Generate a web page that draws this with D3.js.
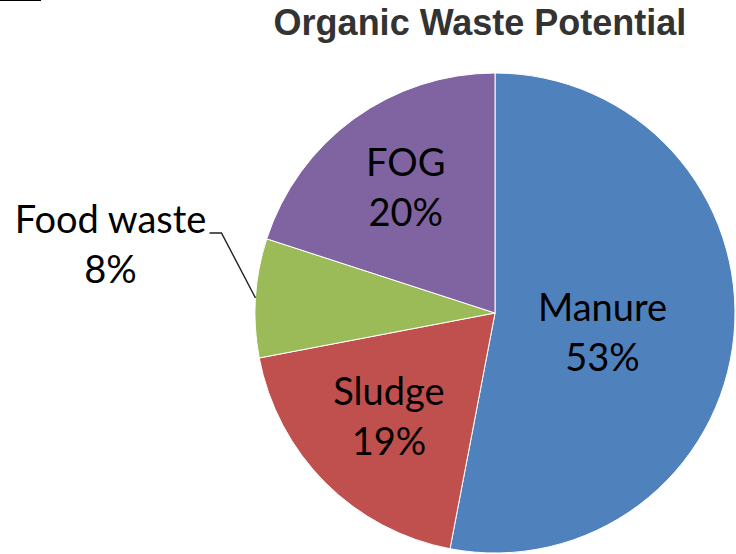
<!DOCTYPE html>
<html>
<head>
<meta charset="utf-8">
<script src="https://cdn.jsdelivr.net/npm/d3@7"></script>
<style>
  html, body { margin: 0; padding: 0; background: #fff; }
  svg { display: block; }
</style>
</head>
<body>
<svg id="chart" width="736" height="554"></svg>
<script>
// Organic waste potential by source (percent of total)
const categories = ["Manure", "Sludge", "Food waste", "FOG"];
const shares = [53, 19, 8, 20];
const colors = ["#4F81BD", "#C0504D", "#9BBB59", "#8064A2"];
const title = "Organic Waste Potential";

const width = 736, height = 554;
const cx = 495, cy = 313, radius = 240;

const svg = d3.select("#chart");

// short rule in the top-left corner
svg.append("line")
  .attr("x1", 0).attr("x2", 41)
  .attr("y1", 0.5).attr("y2", 0.5)
  .attr("stroke", "#000").attr("stroke-width", 1.2);

svg.append("text")
  .attr("x", 480).attr("y", 35)
  .attr("text-anchor", "middle")
  .attr("font-family", "'Liberation Sans', Arial, sans-serif")
  .attr("font-weight", "bold")
  .attr("font-size", 36)
  .attr("fill", "#333")
  .text(title);

const data = categories.map((c, i) => ({ name: c, value: shares[i], color: colors[i] }));

const pie = d3.pie().value(d => d.value).sort(null);
const arcs = pie(data);
const arc = d3.arc().innerRadius(0).outerRadius(radius);

const g = svg.append("g").attr("transform", `translate(${cx},${cy})`);

g.selectAll("path.slice")
  .data(arcs)
  .join("path")
  .attr("class", "slice")
  .attr("d", arc)
  .attr("fill", d => d.data.color)
  .attr("stroke", "#fff")
  .attr("stroke-width", 1);

// label placement: inside labels on an inner ring (with a small vertical nudge),
// the narrow slice gets an outside label with a leader line
const labelRing = {
  "Manure": { r: 0.45, dy: 10 },
  "Sludge": { r: 0.625, dy: -2 },
  "FOG":    { r: 0.633, dy: -2 }
};
const fontFamily = "Lato, 'Open Sans', sans-serif";
const fontSize = 38;
const lineGap = 50;
const capHalf = 13;

arcs.forEach(d => {
  const name = d.data.name;
  const label = [name, d.data.value + "%"];
  const place = labelRing[name];
  if (place) {
    const r = radius * place.r;
    const [lx, ly0] = d3.arc().innerRadius(r).outerRadius(r).centroid(d);
    const ly = ly0 + place.dy;
    const t = g.append("text")
      .attr("text-anchor", "middle")
      .attr("font-family", fontFamily)
      .attr("font-size", fontSize)
      .attr("fill", "#000");
    label.forEach((s, i) => {
      t.append("tspan")
        .attr("x", lx)
        .attr("y", ly + (i === 0 ? -lineGap / 2 : lineGap / 2) + capHalf)
        .text(s);
    });
  } else {
    const mid = (d.startAngle + d.endAngle) / 2;
    const ex = radius * Math.sin(mid), ey = -radius * Math.cos(mid);
    const kx = ex - 34, ky = ey - 65;
    const hx = kx - 12;
    g.append("path")
      .attr("d", d3.line()([[ex, ey], [kx, ky], [hx, ky]]))
      .attr("fill", "none")
      .attr("stroke", "#222")
      .attr("stroke-width", 1.4);
    const tx = hx - 99;
    const t = g.append("text")
      .attr("text-anchor", "middle")
      .attr("font-family", fontFamily)
      .attr("font-size", fontSize)
      .attr("fill", "#000");
    label.forEach((s, i) => {
      t.append("tspan")
        .attr("x", tx)
        .attr("y", ky + i * lineGap)
        .text(s);
    });
  }
});
</script>
</body>
</html>
